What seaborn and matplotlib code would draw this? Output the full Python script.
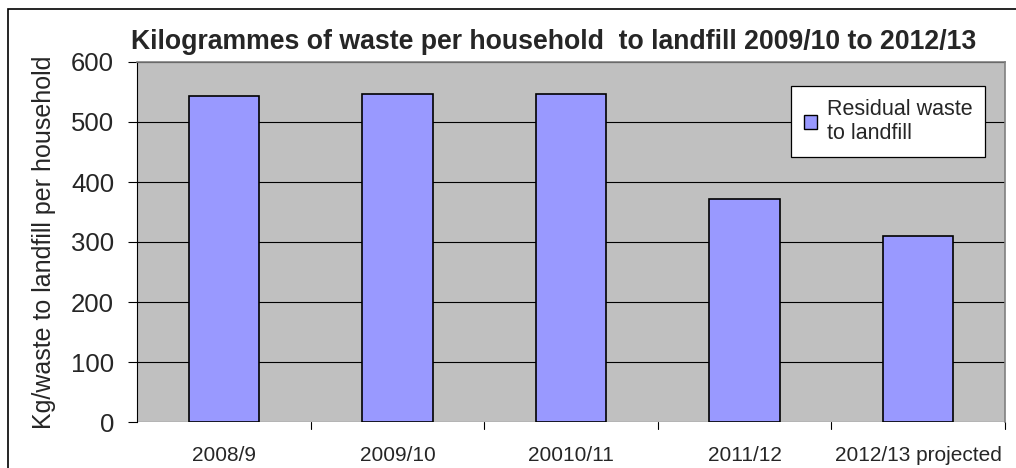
import matplotlib
matplotlib.use("Agg")
import matplotlib.pyplot as plt
import seaborn as sns
import pandas as pd
from matplotlib.patches import Rectangle, Patch

categories = ["2008/9", "2009/10", "20010/11", "2011/12", "2012/13 projected"]
values = [544, 547, 547, 372, 310]
series_name = "Residual waste\nto landfill"
title = "Kilogrammes of waste per household  to landfill 2009/10 to 2012/13"
ylabel = "Kg/waste to landfill per household"
yticks = [0, 100, 200, 300, 400, 500, 600]

sns.set_style("white")
plt.rcParams['font.family'] = ['Liberation Sans', 'DejaVu Sans']

df = pd.DataFrame({"cat": categories, "val": values})

fig = plt.figure(figsize=(10.16, 4.68), dpi=100)
ax = fig.add_axes([137/1016, 1 - 422/468, (1005 - 137)/1016, (422 - 62)/468])
ax.set_facecolor("#C0C0C0")

sns.barplot(data=df, x="cat", y="val", color="#9999FF", edgecolor="black",
            linewidth=1.2, width=0.405, saturation=1, ax=ax, zorder=3)

ax.set_ylim(0, 600)
ax.set_xlim(-0.5, 4.5)
ax.set_yticks(yticks)
ax.set_yticklabels([str(t) for t in yticks], fontsize=18.5)
for t in yticks:
    ax.axhline(t, color="black", linewidth=0.8, zorder=1)

ax.set_xticks(range(len(categories)))
ax.set_xticklabels(categories, fontsize=15)
ax.tick_params(axis="x", length=0, pad=17)
ax.tick_params(axis="y", length=6.5, width=0.8, color="black", direction="out", left=True, pad=10)
for b in [0.5, 1.5, 2.5, 3.5, 4.5]:
    ax.plot([b, b], [0, -0.02], transform=ax.get_xaxis_transform(), color="black",
            linewidth=0.8, clip_on=False)

ax.set_xlabel("")
ax.set_ylabel(ylabel, fontsize=18, labelpad=11)

ax.spines["left"].set_color("black")
ax.spines["left"].set_linewidth(0.8)
ax.spines["bottom"].set_visible(False)
ax.spines["top"].set_color("#808080")
ax.spines["right"].set_color("#808080")
ax.spines["top"].set_linewidth(1.2)
ax.spines["right"].set_linewidth(1.2)

fig.text(131/1016, 1 - 49/468, title, fontsize=19.2, fontweight="bold", ha="left", va="baseline")

h = [Patch(facecolor="#9999FF", edgecolor="black", linewidth=1)]
leg = ax.legend(h, [series_name], loc="upper left",
                bbox_to_anchor=((791 - 137)/868, 1 - (86 - 62)/360),
                fontsize=15.5, frameon=True, fancybox=False, framealpha=1, edgecolor="black",
                handlelength=0.6, handleheight=0.6, handletextpad=0.45, borderpad=0.6,
                borderaxespad=0)
leg.get_frame().set_linewidth(0.9)

fig.patches.append(Rectangle((8/1016, -0.1), 1.2, 1.1 - 9/468, transform=fig.transFigure,
                             fill=False, edgecolor="black", linewidth=1.2))

fig.savefig("out.png", dpi=100)
